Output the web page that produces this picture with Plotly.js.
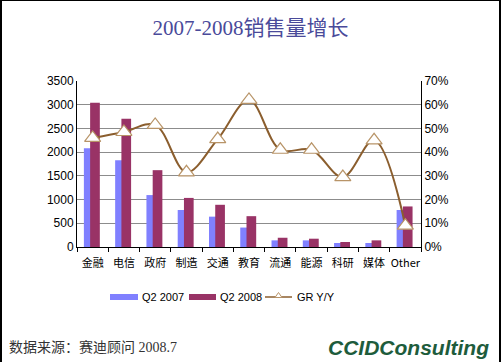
<!DOCTYPE html>
<html>
<head>
<meta charset="utf-8">
<script src="https://cdn.plot.ly/plotly-3.0.1.min.js"></script>
<style>
html,body{margin:0;padding:0;background:#fff;}
#wrap{position:relative;width:501px;height:362px;box-sizing:border-box;border-left:2px solid #000;border-right:2px solid #000;border-top:1px solid #000;}
#chart{position:absolute;left:-2px;top:-1px;width:501px;height:362px;}
</style>
</head>
<body>
<div id="wrap"><div id="chart"></div></div>
<script>
const categories = ['金融','电信','政府','制造','交通','教育','流通','能源','科研','媒体','Other'];
const q2_2007 = [2080, 1830, 1095, 780, 640, 410, 140, 140, 85, 85, 780];
const q2_2008 = [3040, 2705, 1620, 1035, 890, 650, 195, 175, 105, 140, 855];
const grYY = [0.46, 0.485, 0.515, 0.315, 0.455, 0.62, 0.41, 0.41, 0.295, 0.45, 0.09];
const yTicks = [0, 500, 1000, 1500, 2000, 2500, 3000, 3500];
const seriesNames = ['Q2 2007', 'Q2 2008', 'GR Y/Y'];

const c2007 = '#8080FF', c2008 = '#993366', cLine = '#8B5E2E', cMarkEdge = '#B89468';

const traces = [
  {type:'bar', name:seriesNames[0], x:categories, y:q2_2007, marker:{color:c2007}, width:0.29, offset:-0.28, yaxis:'y'},
  {type:'bar', name:seriesNames[1], x:categories, y:q2_2008, marker:{color:c2008}, width:0.31, offset:-0.08, yaxis:'y'},
  {type:'scatter', mode:'lines+markers', name:seriesNames[2], x:categories, y:grYY, yaxis:'y2',
   line:{color:cLine, width:2, shape:'spline', smoothing:1},
   marker:{symbol:'triangle-up', size:14, color:'#FFFFFF', line:{color:cMarkEdge, width:1.2}}}
];

// custom legend (pixel -> paper conversion): plot area x 77..421, y 81..247
const px = v => (v - 77) / 344;
const py = v => (247 - v) / 166;
const legY = 297;
const shapes = [
  {type:'rect', xref:'paper', yref:'paper', x0:px(110), x1:px(138), y0:py(legY-3), y1:py(legY+3), fillcolor:c2007, line:{width:0}},
  {type:'rect', xref:'paper', yref:'paper', x0:px(189), x1:px(216), y0:py(legY-3), y1:py(legY+3), fillcolor:c2008, line:{width:0}},
  {type:'line', xref:'paper', yref:'paper', x0:px(265), x1:px(292), y0:py(legY), y1:py(legY), line:{color:cLine, width:1.5}},
  {type:'path', xref:'paper', yref:'paper',
   path:`M ${px(275)} ${py(legY+0.5)} L ${px(282)} ${py(legY+0.5)} L ${px(278.5)} ${py(legY-4.5)} Z`,
   fillcolor:'#FFFFFF', line:{color:cMarkEdge, width:1}}
];

const layout = {
  width:501, height:362,
  margin:{l:77, r:80, t:81, b:115},
  paper_bgcolor:'rgba(0,0,0,0)', plot_bgcolor:'#FFFFFF',
  barmode:'overlay',
  showlegend:false,
  font:{family:'Arial, "Liberation Sans", "Noto Sans CJK SC", sans-serif', size:12, color:'#000'},
  title:{text:'2007-2008销售量增长', x:0.5, xanchor:'center', y:0.925, yanchor:'middle',
         font:{family:'"Liberation Serif", "Noto Sans CJK SC", serif', size:21, color:'#4A4A9A'}},
  xaxis:{type:'category', showline:true, linecolor:'#000', linewidth:1, ticks:'outside', tickson:'boundaries',
         ticklen:4, tickcolor:'#000', showgrid:false, tickangle:0, ticklabelstandoff:6,
         tickfont:{size:11, family:'"Noto Sans CJK SC", Arial, sans-serif'}, range:[-0.5, 10.5]},
  yaxis:{range:[0,3500], tickvals:yTicks, showgrid:true, gridcolor:'#8C8C8C', gridwidth:1, showline:true,
         linecolor:'#000', ticks:'', tickfont:{size:12}, zeroline:false},
  yaxis2:{range:[0,0.7], overlaying:'y', side:'right', dtick:0.1, tick0:0, tickformat:'.0%', showgrid:false,
          showline:true, linecolor:'#000', ticks:'', tickfont:{size:12}, zeroline:false},
  shapes: shapes,
  annotations:[
    {text:seriesNames[0], xref:'paper', yref:'paper', x:px(140), y:py(legY), xanchor:'left', yanchor:'middle', showarrow:false, font:{size:11}},
    {text:seriesNames[1], xref:'paper', yref:'paper', x:px(218), y:py(legY), xanchor:'left', yanchor:'middle', showarrow:false, font:{size:11}},
    {text:seriesNames[2], xref:'paper', yref:'paper', x:px(295), y:py(legY), xanchor:'left', yanchor:'middle', showarrow:false, font:{size:11}},
    {text:'数据来源：赛迪顾问 2008.7', xref:'paper', yref:'paper', x:px(7), y:py(347), xanchor:'left', yanchor:'middle',
     showarrow:false, font:{family:'"Liberation Serif", "Noto Sans CJK SC", serif', size:14, color:'#333'}},
    {text:'<b><i>CCIDConsulting</i></b>', xref:'paper', yref:'paper', x:px(491), y:py(347), xanchor:'right', yanchor:'middle',
     showarrow:false, font:{family:'"Liberation Sans", Arial, sans-serif', size:21, color:'#1E5C3C'}}
  ]
};

Plotly.newPlot('chart', traces, layout, {displayModeBar:false, staticPlot:true});
</script>
</body>
</html>
